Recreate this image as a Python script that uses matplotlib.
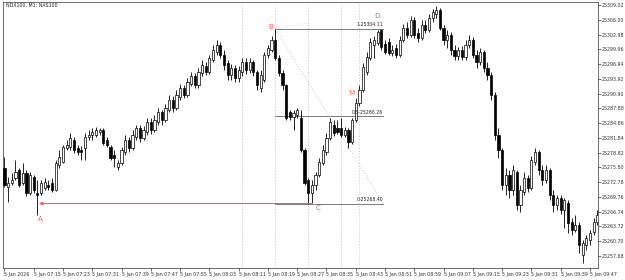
import matplotlib
matplotlib.use("Agg")
from matplotlib import pyplot as plt
import numpy as np

title = "NDX100, M1: NAS100"

opens = [
    25275.6, 25271.8, 25272.6, 25273.6, 25275.2, 25272.6, 25274.6, 25270.5, 25273.8, 25270.5,
    25270.5, 25271.6, 25272.2, 25272.6, 25271.1, 25276.3, 25276.9, 25279.7, 25279.9, 25281.4,
    25279.7, 25279.3, 25279.7, 25282.0, 25282.4, 25282.4, 25283.0, 25283.4, 25281.4, 25279.9,
    25278.3, 25275.8, 25276.7, 25278.9, 25281.4, 25279.7, 25282.0, 25283.8, 25281.8, 25283.0,
    25285.1, 25283.4, 25285.1, 25287.1, 25285.5, 25287.5, 25289.5, 25287.9, 25290.2, 25292.0,
    25290.6, 25292.8, 25294.5, 25292.6, 25295.1, 25296.5, 25295.3, 25297.7, 25299.4, 25300.8,
    25298.8, 25297.1, 25294.7, 25296.1, 25294.0, 25295.3, 25297.3, 25295.7, 25297.3, 25295.3,
    25292.0, 25293.6, 25298.8, 25299.8, 25301.8, 25298.1, 25295.1, 25292.6, 25287.1, 25286.1,
    25286.5, 25285.9, 25279.3, 25273.2, 25270.5, 25272.2, 25274.2, 25276.7, 25278.9, 25281.8,
    25284.4, 25283.8, 25283.8, 25282.4, 25283.4, 25281.0, 25285.5, 25288.9, 25291.6, 25295.3,
    25298.1, 25300.8, 25301.2, 25303.9, 25301.0, 25301.4, 25299.2, 25300.2, 25298.8, 25301.8,
    25304.3, 25302.8, 25305.9, 25303.3, 25302.2, 25304.9, 25303.9, 25306.3, 25307.1, 25308.0,
    25304.3, 25301.8, 25302.8, 25299.8, 25298.5, 25299.8, 25298.3, 25300.8, 25301.8, 25298.8,
    25297.3, 25299.4, 25296.1, 25294.7, 25290.6, 25282.4, 25279.3, 25272.2, 25274.2, 25271.1,
    25274.8, 25268.1, 25270.7, 25273.6, 25271.6, 25276.9, 25278.9, 25275.2, 25273.2, 25275.2,
    25270.1, 25268.1, 25269.5, 25267.1, 25268.5, 25264.6, 25263.0, 25264.0, 25257.9, 25259.9,
    25260.9, 25262.6, 25264.6]

highs = [
    25277.9, 25273.8, 25274.6, 25277.3, 25275.6, 25276.7, 25275.2, 25274.8, 25274.2, 25273.2,
    25273.2, 25273.6, 25273.2, 25273.6, 25277.3, 25279.3, 25280.3, 25281.4, 25282.8, 25282.0,
    25280.3, 25280.1, 25282.8, 25283.4, 25283.8, 25284.0, 25283.8, 25283.8, 25282.0, 25280.3,
    25279.3, 25277.3, 25279.9, 25282.4, 25282.0, 25283.4, 25284.4, 25284.4, 25284.2, 25285.9,
    25285.9, 25286.5, 25287.9, 25287.5, 25288.7, 25290.6, 25290.4, 25291.6, 25292.8, 25292.6,
    25294.0, 25295.3, 25295.1, 25296.1, 25297.7, 25297.3, 25298.8, 25300.8, 25301.8, 25301.4,
    25299.8, 25297.7, 25296.9, 25296.7, 25296.5, 25298.1, 25298.1, 25298.1, 25297.7, 25295.7,
    25295.7, 25299.4, 25300.8, 25302.6, 25304.11, 25298.8, 25295.7, 25292.8, 25287.5, 25287.5,
    25287.9, 25287.5, 25279.7, 25273.6, 25273.2, 25274.8, 25277.7, 25280.3, 25282.8, 25285.9,
    25285.5, 25285.5, 25285.9, 25284.0, 25283.8, 25285.9, 25290.0, 25292.6, 25297.1, 25299.4,
    25302.2, 25302.6, 25303.9, 25304.1, 25301.8, 25302.2, 25300.8, 25301.0, 25302.6, 25305.1,
    25305.5, 25306.7, 25306.5, 25304.3, 25305.9, 25305.9, 25307.1, 25308.2, 25308.8, 25308.4,
    25304.9, 25303.9, 25303.5, 25300.8, 25300.4, 25300.6, 25301.8, 25302.8, 25302.4, 25299.8,
    25300.2, 25299.8, 25297.3, 25295.3, 25291.2, 25283.8, 25279.7, 25275.6, 25275.2, 25276.3,
    25275.2, 25272.2, 25274.8, 25274.2, 25278.1, 25279.7, 25279.3, 25276.3, 25276.3, 25275.6,
    25271.1, 25270.1, 25270.1, 25269.5, 25269.1, 25265.4, 25266.0, 25264.6, 25260.9, 25261.9,
    25263.0, 25265.4, 25267.1]

lows = [
    25271.8, 25268.7, 25272.2, 25273.2, 25271.8, 25272.2, 25269.9, 25270.1, 25270.5, 25266.0,
    25270.1, 25271.1, 25271.1, 25270.7, 25270.9, 25275.6, 25276.7, 25279.3, 25279.3, 25278.7,
    25278.3, 25277.3, 25277.3, 25281.4, 25281.4, 25282.0, 25282.4, 25280.3, 25279.9, 25277.3,
    25275.8, 25275.2, 25276.3, 25278.3, 25278.9, 25279.3, 25281.4, 25281.0, 25281.4, 25282.4,
    25282.6, 25283.0, 25284.4, 25284.4, 25285.1, 25287.1, 25287.1, 25287.5, 25289.5, 25290.0,
    25290.2, 25292.4, 25292.0, 25292.0, 25294.5, 25294.7, 25294.9, 25297.3, 25298.8, 25298.1,
    25295.7, 25293.6, 25293.6, 25293.2, 25293.2, 25294.5, 25294.9, 25295.1, 25294.5, 25291.6,
    25291.2, 25293.2, 25298.1, 25299.4, 25297.7, 25294.5, 25291.6, 25285.5, 25285.5, 25283.4,
    25285.9, 25278.9, 25272.2, 25268.4, 25268.5, 25271.1, 25273.8, 25276.3, 25278.3, 25281.4,
    25282.2, 25282.6, 25282.0, 25282.0, 25279.7, 25280.6, 25285.1, 25288.3, 25291.2, 25294.7,
    25297.7, 25298.1, 25300.8, 25299.8, 25299.0, 25298.8, 25298.5, 25298.1, 25298.3, 25301.4,
    25302.2, 25302.4, 25302.2, 25301.4, 25301.8, 25303.3, 25303.5, 25305.5, 25306.3, 25303.9,
    25300.8, 25300.2, 25298.8, 25297.7, 25297.7, 25297.7, 25297.7, 25300.2, 25298.1, 25296.1,
    25296.7, 25295.3, 25293.6, 25289.5, 25281.4, 25277.7, 25271.1, 25270.1, 25269.5, 25270.1,
    25267.1, 25266.6, 25270.1, 25270.7, 25271.1, 25276.3, 25274.2, 25272.2, 25272.6, 25269.1,
    25266.6, 25267.1, 25266.2, 25263.4, 25262.4, 25261.9, 25262.6, 25258.3, 25256.2, 25258.9,
    25259.9, 25261.9, 25264.0]

closes = [
    25272.2, 25272.6, 25273.2, 25274.8, 25272.2, 25274.6, 25270.5, 25274.2, 25271.1, 25270.1,
    25272.6, 25272.8, 25271.8, 25271.1, 25276.7, 25277.9, 25279.9, 25280.3, 25281.8, 25279.3,
    25278.9, 25278.9, 25282.0, 25282.4, 25283.0, 25283.4, 25283.4, 25280.8, 25280.3, 25277.7,
    25277.7, 25276.7, 25279.3, 25281.4, 25279.7, 25282.4, 25283.8, 25281.8, 25283.4, 25285.1,
    25283.4, 25285.5, 25287.1, 25285.5, 25287.9, 25289.5, 25287.9, 25290.6, 25292.0, 25290.6,
    25293.2, 25294.5, 25292.6, 25295.3, 25296.7, 25295.3, 25298.1, 25299.8, 25300.8, 25298.8,
    25296.7, 25294.7, 25296.1, 25294.0, 25295.7, 25297.3, 25295.7, 25297.3, 25295.3, 25292.6,
    25294.7, 25298.8, 25300.2, 25301.8, 25298.1, 25295.1, 25292.6, 25285.9, 25286.1, 25286.9,
    25287.5, 25279.3, 25272.6, 25270.5, 25272.2, 25274.2, 25276.9, 25279.3, 25281.8, 25285.1,
    25282.8, 25283.0, 25282.4, 25283.4, 25281.0, 25285.5, 25288.9, 25291.6, 25296.3, 25298.3,
    25301.4, 25301.8, 25303.5, 25300.4, 25299.4, 25299.2, 25299.8, 25298.8, 25301.8, 25304.3,
    25302.8, 25305.9, 25302.8, 25302.2, 25304.9, 25303.9, 25306.3, 25307.5, 25308.0, 25304.3,
    25301.8, 25302.8, 25299.8, 25298.5, 25299.8, 25298.3, 25300.8, 25301.8, 25298.8, 25297.3,
    25299.4, 25296.1, 25294.7, 25290.6, 25282.4, 25279.3, 25272.2, 25274.2, 25271.1, 25275.2,
    25268.1, 25271.1, 25273.6, 25271.6, 25277.3, 25278.9, 25275.2, 25273.2, 25275.2, 25270.1,
    25268.1, 25269.5, 25267.1, 25269.1, 25264.4, 25263.0, 25264.0, 25259.9, 25260.3, 25261.3,
    25262.4, 25264.6, 25266.0]

# price scale labels (right axis)
y_ticks = [25257.68, 25260.70, 25263.72, 25266.74, 25269.76, 25272.78, 25275.80, 25278.82,
           25281.84, 25284.86, 25287.88, 25290.90, 25293.92, 25296.94, 25299.96, 25302.98,
           25306.00, 25309.02]

x_labels = ["5 Jan 2026", "5 Jan 07:15", "5 Jan 07:23", "5 Jan 07:31", "5 Jan 07:39",
            "5 Jan 07:47", "5 Jan 07:55", "5 Jan 08:03", "5 Jan 08:11", "5 Jan 08:19",
            "5 Jan 08:27", "5 Jan 08:35", "5 Jan 08:43", "5 Jan 08:51", "5 Jan 08:59",
            "5 Jan 09:07", "5 Jan 09:15", "5 Jan 09:23", "5 Jan 09:31", "5 Jan 09:39",
            "5 Jan 09:47"]

# fibo B -> C
fib_high = 25304.11
fib_low = 25268.40
fib_levels = [1.0, 0.5, 0.0]
fib_start, fib_end = 74, 103.5

vlines_at = [65, 74, 83, 92, 97]

o = np.array(opens)
h = np.array(highs)
l = np.array(lows)
c = np.array(closes)
idx = np.arange(len(o))

fig = plt.figure(figsize=(6.25, 2.8), dpi=100)
ax = fig.add_axes([3 / 625, 12 / 280, 595 / 625, 266 / 280])

red = '#ff5a5a'
grid_c = '#c8c8c8'

for v in vlines_at:
    ax.axvline(v, color=grid_c, lw=0.6, ls=(0, (1.5, 2)), zorder=1)

# candles
ax.vlines(idx, l, h, color='black', lw=0.6, zorder=3)
up = c >= o
bottoms = np.minimum(o, c)
heights = np.maximum(np.abs(c - o), 0.05)
ax.bar(idx[up], heights[up], bottom=bottoms[up], width=0.6, color='white',
       edgecolor='black', lw=0.5, zorder=4)
ax.bar(idx[~up], heights[~up], bottom=bottoms[~up], width=0.6, color='black',
       edgecolor='black', lw=0.5, zorder=4)

# fibo lines and labels
for lev in fib_levels:
    price = fib_low + (fib_high - fib_low) * lev
    ax.plot([fib_start, fib_end], [price, price], color='#7a7a7a', lw=0.7, zorder=2)
    txt = "%g-%.2f" % (lev, price)
    ax.text(fib_end, price + 0.35, txt, fontsize=3.3, ha='right', va='bottom',
            color='#222222', zorder=6)
ax.plot([fib_start, fib_end], [fib_high, fib_low], color=grid_c, lw=0.6,
        ls=(0, (1.5, 2)), zorder=2)
ax.plot([fib_start, 83], [fib_high, 25305.4], color='#dddddd', lw=0.6,
        ls=(0, (1.5, 2)), zorder=2)

# red arrow from C back to A
ax.annotate('', xy=(9.4, fib_low), xytext=(84, fib_low),
            arrowprops=dict(arrowstyle='-|>', color=red, lw=0.8,
                            mutation_scale=5, shrinkA=0, shrinkB=0), zorder=5)

for lbl, xx, yy in [('A', 9.7, 25265.2), ('B', 72.8, 25304.5), ('C', 85.7, 25267.5),
                    ('D', 101.8, 25306.7), ('M', 94.7, 25291.0)]:
    ax.text(xx, yy, lbl, color=red, fontsize=5.2, ha='center', va='center', zorder=7)

ax.text(0.4, 25308.9, title, fontsize=3.4, ha='left', va='center', color='#222222')

ax.set_xlim(-0.4, 162.2)
ax.set_ylim(25255.21, 25309.63)

ax.yaxis.tick_right()
ax.set_yticks(y_ticks)
ax.set_yticklabels(["%.2f" % t for t in y_ticks])
ax.set_xticks(np.arange(len(x_labels)) * 8)
ax.set_xticklabels(x_labels)
for t in ax.get_xticklabels():
    t.set_horizontalalignment('left')
ax.tick_params(axis='both', labelsize=3.4, length=2, width=0.5, pad=1,
               colors='#333333')

for s in ax.spines.values():
    s.set_color('#555555')
    s.set_linewidth(0.6)

fig.savefig('out.png', dpi=100)
